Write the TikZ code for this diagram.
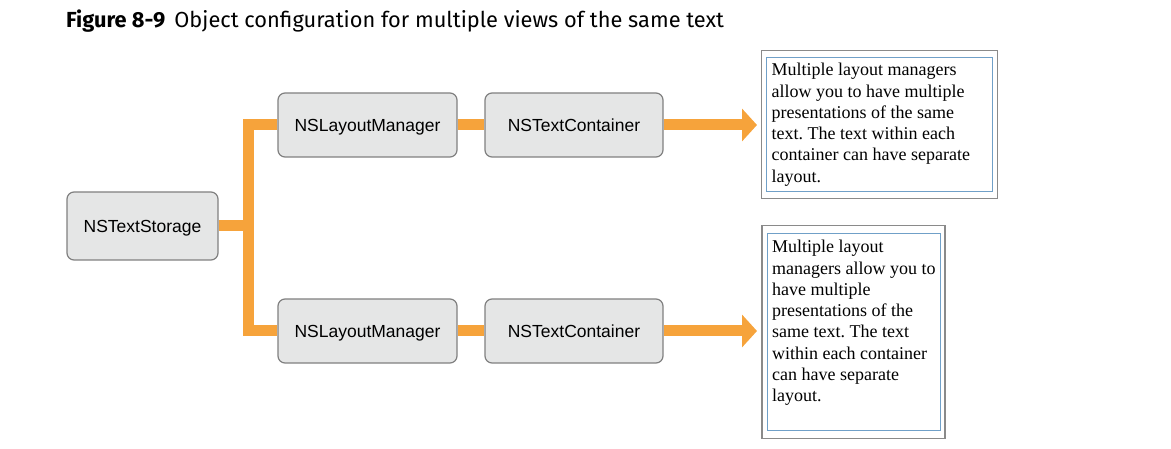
\documentclass[tikz,border=0pt]{standalone}
\usepackage{fontspec}
\setmainfont{Liberation Serif}
\newfontfamily\boxfont{Liberation Sans}
\newfontfamily\titlefont{Fira Sans}
\usetikzlibrary{arrows.meta,fit}
\definecolor{connorange}{RGB}{246,163,59}
\definecolor{boxfill}{RGB}{229,230,230}
\definecolor{boxline}{RGB}{128,128,128}
\definecolor{noteblue}{RGB}{112,160,200}
\definecolor{framegray}{RGB}{138,138,138}
\tikzset{
  classbox/.style={draw=boxline, fill=boxfill, line width=1.2pt, rounded corners=7pt,
    font=\boxfont\fontsize{17.5}{20}\selectfont, inner sep=0pt, text height=12.6pt, text depth=0pt},
  conn/.style={draw=connorange, line width=11pt, line join=miter},
  connarrow/.style={conn, -{Triangle[length=15pt,width=32pt]}},
  notebox/.style={draw=noteblue, line width=1.2pt, inner sep=0pt, anchor=north west},
  noteframe/.style={draw=framegray, line width=1.5pt, inner xsep=4.3pt},
}
\newcommand{\notetxt}[4]{\parbox[t][#2][t]{#1}{\raggedright\leftskip=5pt\frenchspacing
  \fontsize{18}{21.3}\selectfont\vspace*{#3}#4}}
\begin{document}
\begin{tikzpicture}[x=1pt,y=-1pt]
\useasboundingbox (0,0) rectangle (1171,449);
% title
\node[anchor=base west, inner sep=0pt, font=\titlefont\fontsize{21.8}{25}\selectfont] (title) at (66,27.5)
  {\textbf{Figure 8-9}\hspace{9pt}Object configuration for multiple views of the same text};
% class boxes
\node[classbox, minimum width=151pt, minimum height=68pt] (storage) at (142.5,226) {NSTextStorage};
\node[classbox, minimum width=179pt, minimum height=64pt] (lm1) at (367.5,125) {NSLayoutManager};
\node[classbox, minimum width=178pt, minimum height=64pt] (tc1) at (574,125) {NSTextContainer};
\node[classbox, minimum width=179pt, minimum height=64pt] (lm2) at (367.5,331) {NSLayoutManager};
\node[classbox, minimum width=178pt, minimum height=64pt] (tc2) at (574,331) {NSTextContainer};
% notes
\node[notebox] (note1) at (766,57) {\notetxt{226pt}{134pt}{5.7pt}{Multiple layout managers\\
allow you to have multiple\\presentations of the same\\text. The text within each\\
container can have separate\\layout.}};
\node[noteframe, inner ysep=6.3pt, fit=(note1)] (frame1) {};
\node[notebox] (note2) at (766.5,233) {\notetxt{173pt}{197pt}{6.7pt}{Multiple layout\\
managers allow you to\\have multiple\\presentations of the\\same text. The text\\
within each container\\can have separate\\layout.}};
\node[noteframe, inner ysep=7.3pt, fit=(note2)] (frame2) {};
% connectors
\coordinate (j) at (248.5,226);
\coordinate (t1) at (757,125);
\coordinate (t2) at (757,331);
\draw[conn] (storage.east) -- (j);
\draw[conn] (lm1.west) -| (j) |- (lm2.west);
\draw[conn] (lm1.east) -- (tc1.west);
\draw[conn] (lm2.east) -- (tc2.west);
\draw[connarrow] (tc1.east) -- (t1);
\draw[connarrow] (tc2.east) -- (t2);
\end{tikzpicture}
\end{document}
